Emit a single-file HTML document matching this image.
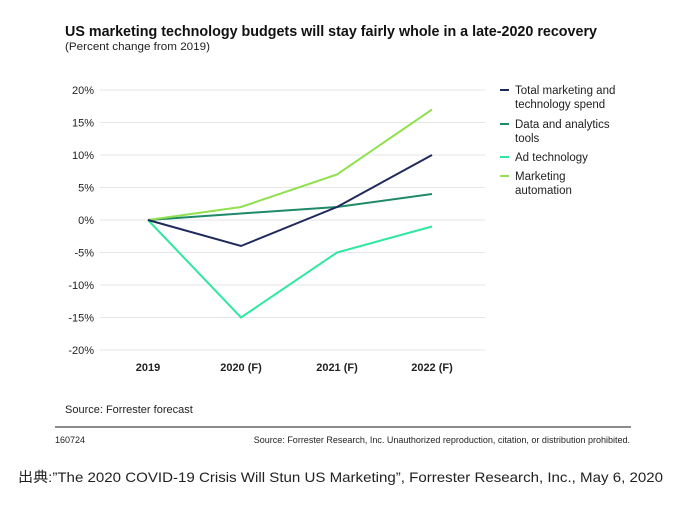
<!DOCTYPE html>
<html><head><meta charset="utf-8"><style>
body{margin:0;background:#fff;width:675px;height:500px;overflow:hidden;font-family:"Liberation Sans",sans-serif}
</style></head><body>
<svg width="675" height="500" xmlns="http://www.w3.org/2000/svg" font-family="Liberation Sans, sans-serif">
<text x="65" y="36" font-size="15" font-weight="bold" fill="#111" textLength="532" lengthAdjust="spacingAndGlyphs">US marketing technology budgets will stay fairly whole in a late-2020 recovery</text>
<text x="65" y="50" font-size="11" fill="#222" textLength="145" lengthAdjust="spacingAndGlyphs">(Percent change from 2019)</text>
<g stroke="#e6e6e6" stroke-width="1">
<line x1="100" x2="485" y1="90" y2="90"/><line x1="100" x2="485" y1="122.5" y2="122.5"/>
<line x1="100" x2="485" y1="155" y2="155"/><line x1="100" x2="485" y1="187.5" y2="187.5"/>
<line x1="100" x2="485" y1="220" y2="220"/><line x1="100" x2="485" y1="252.5" y2="252.5"/>
<line x1="100" x2="485" y1="285" y2="285"/><line x1="100" x2="485" y1="317.5" y2="317.5"/>
<line x1="100" x2="485" y1="350" y2="350"/>
</g>
<g font-size="11" fill="#222" text-anchor="end">
<text x="94" y="94">20%</text><text x="94" y="126.5">15%</text><text x="94" y="159">10%</text>
<text x="94" y="191.5">5%</text><text x="94" y="224">0%</text><text x="94" y="256.5">-5%</text>
<text x="94" y="289">-10%</text><text x="94" y="321.5">-15%</text><text x="94" y="354">-20%</text>
</g>
<g font-size="11" font-weight="bold" fill="#222" text-anchor="middle">
<text x="148" y="371">2019</text><text x="241" y="371">2020 (F)</text><text x="337" y="371">2021 (F)</text><text x="432" y="371">2022 (F)</text>
</g>
<g fill="none" stroke-width="2">
<polyline stroke="#1e8a68" points="148,220 241,213.5 337,207 432,194"/>
<polyline stroke="#2ee8a0" points="148,220 241,317.5 337,252.5 432,226.5"/>
<polyline stroke="#90e050" points="148,220 241,207 337,174.5 432,109.5"/>
<polyline stroke="#1f2a5c" points="148,220 241,246 337,207 432,155"/>
</g>
<g stroke-width="2">
<line x1="500" x2="509" y1="90" y2="90" stroke="#1f2a5c"/>
<line x1="500" x2="509" y1="124" y2="124" stroke="#1e8a68"/>
<line x1="500" x2="509" y1="157" y2="157" stroke="#2ee8a0"/>
<line x1="500" x2="509" y1="176" y2="176" stroke="#90e050"/>
</g>
<g font-size="11.5" fill="#222">
<text x="515" y="94">Total marketing and</text><text x="515" y="108">technology spend</text>
<text x="515" y="128">Data and analytics</text><text x="515" y="142">tools</text>
<text x="515" y="161">Ad technology</text>
<text x="515" y="180">Marketing</text><text x="515" y="194">automation</text>
</g>
<text x="65" y="413" font-size="11" fill="#222">Source: Forrester forecast</text>
<line x1="55" x2="631" y1="427" y2="427" stroke="#666" stroke-width="1.5"/>
<text x="55" y="443" font-size="9" fill="#222">160724</text>
<text x="630" y="443" font-size="9" fill="#222" text-anchor="end">Source: Forrester Research, Inc. Unauthorized reproduction, citation, or distribution prohibited.</text>
<text x="18" y="482" font-size="14" fill="#222" font-family="Liberation Sans, Noto Sans CJK JP, sans-serif" textLength="645" lengthAdjust="spacingAndGlyphs">出典:”The 2020 COVID-19 Crisis Will Stun US Marketing”, Forrester Research, Inc., May 6, 2020</text>
</svg>
</body></html>
